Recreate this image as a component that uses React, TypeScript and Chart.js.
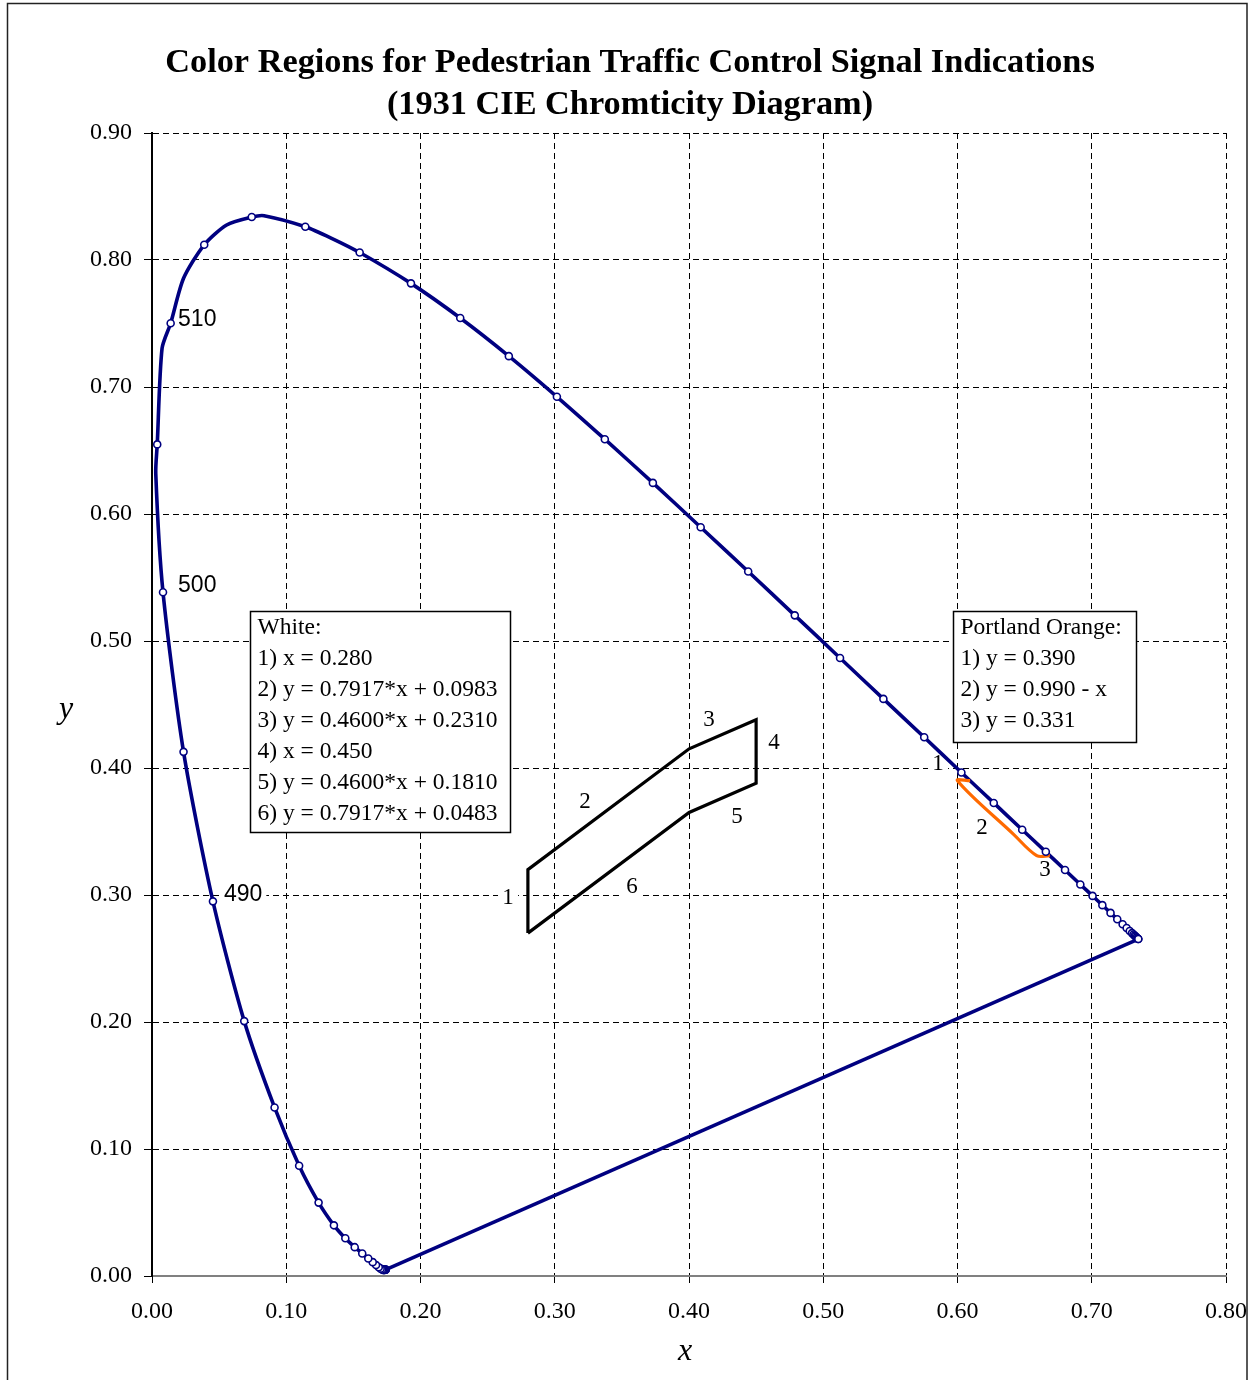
import React, { useEffect, useRef } from "react";
import { Chart, registerables } from "chart.js";

Chart.register(...registerables);

// ---- Data ----
const titleLines = [
  "Color Regions for Pedestrian Traffic Control Signal Indications",
  "(1931 CIE Chromticity Diagram)",
];

const wavelengths = [
  380, 385, 390, 395, 400, 405, 410, 415, 420, 425, 430, 435, 440, 445, 450, 455,
  460, 465, 470, 475, 480, 485, 490, 495, 500, 505, 510, 515, 520, 525, 530, 535,
  540, 545, 550, 555, 560, 565, 570, 575, 580, 585, 590, 595, 600, 605, 610, 615,
  620, 625, 630, 635, 640, 645, 650, 655, 660, 665, 670, 675, 680, 685, 690, 695, 700,
];
const locusX = [
  0.1741, 0.174, 0.1738, 0.1736, 0.1733, 0.173, 0.1726, 0.1721, 0.1714, 0.1703, 0.1689, 0.1669,
  0.1644, 0.1611, 0.1566, 0.151, 0.144, 0.1355, 0.1241, 0.1096, 0.0913, 0.0687, 0.0454, 0.0235,
  0.0082, 0.0039, 0.0139, 0.0389, 0.0743, 0.1142, 0.1547, 0.1929, 0.2296, 0.2658, 0.3016, 0.3373,
  0.3731, 0.4087, 0.4441, 0.4788, 0.5125, 0.5448, 0.5752, 0.6029, 0.627, 0.6482, 0.6658, 0.6801,
  0.6915, 0.7006, 0.7079, 0.714, 0.719, 0.723, 0.726, 0.7283, 0.73, 0.7311, 0.732, 0.7327, 0.7334,
  0.734, 0.7344, 0.7346, 0.7347,
];
const locusY = [
  0.005, 0.005, 0.0049, 0.0049, 0.0048, 0.0048, 0.0048, 0.0048, 0.0051, 0.0058, 0.0069, 0.0086,
  0.0109, 0.0138, 0.0177, 0.0227, 0.0297, 0.0399, 0.0578, 0.0868, 0.1327, 0.2007, 0.295, 0.4127,
  0.5384, 0.6548, 0.7502, 0.812, 0.8338, 0.8262, 0.8059, 0.7816, 0.7543, 0.7243, 0.6923, 0.6589,
  0.6245, 0.5896, 0.5547, 0.5202, 0.4866, 0.4544, 0.4242, 0.3965, 0.3725, 0.3514, 0.334, 0.3197,
  0.3083, 0.2993, 0.292, 0.2859, 0.2809, 0.277, 0.274, 0.2717, 0.27, 0.2689, 0.268, 0.2673, 0.2666,
  0.266, 0.2656, 0.2654, 0.2653,
];

// extra outline vertices (inserted after the given wavelength)
const extraAfter = [500, 505, 510, 515, 520, 525];
const extraX = [0.0028, 0.0075, 0.0235, 0.0556, 0.0835, 0.1338];
const extraY = [0.632, 0.7305, 0.7856, 0.8276, 0.8349, 0.8171];

// White region boundary vertices
const whiteX = [0.28, 0.28, 0.4001, 0.45, 0.45, 0.4001, 0.28];
const whiteY = [0.27, 0.32, 0.4151, 0.438, 0.388, 0.365, 0.27];

// Portland Orange boundary
const orangeX = [0.6094, 0.6, 0.6416, 0.659, 0.6688];
const orangeY = [0.39, 0.39, 0.348, 0.331, 0.331];

const whiteBoxLines = [
  "White:",
  "1) x = 0.280",
  "2) y = 0.7917*x + 0.0983",
  "3) y = 0.4600*x + 0.2310",
  "4) x = 0.450",
  "5) y = 0.4600*x + 0.1810",
  "6) y = 0.7917*x + 0.0483",
];
const orangeBoxLines = ["Portland Orange:", "1) y = 0.390", "2) y = 0.990 - x", "3) y = 0.331"];

const wlLabels = ["510", "500", "490"];
const wlLabelX = [0.0194, 0.0194, 0.0536];
const wlLabelY = [0.7528, 0.5433, 0.3];

const numLabels = ["1", "2", "3", "4", "5", "6", "1", "2", "3"];
const numLabelX = [0.2652, 0.3225, 0.4149, 0.4633, 0.4358, 0.3575, 0.5855, 0.6182, 0.6652];
const numLabelY = [0.2976, 0.3732, 0.4378, 0.4197, 0.3614, 0.3063, 0.4031, 0.3528, 0.3197];

const xTicks = [0, 0.1, 0.2, 0.3, 0.4, 0.5, 0.6, 0.7, 0.8];
const yTicks = [0, 0.1, 0.2, 0.3, 0.4, 0.5, 0.6, 0.7, 0.8, 0.9];

const SERIF = '"Liberation Serif", "Times New Roman", serif';
const SANS = '"Liberation Sans", Arial, sans-serif';

function buildLocus() {
  const pts: { x: number; y: number }[] = [];
  for (let i = 0; i < wavelengths.length; i++) {
    pts.push({ x: locusX[i], y: locusY[i] });
    for (let j = 0; j < extraAfter.length; j++) {
      if (extraAfter[j] === wavelengths[i]) pts.push({ x: extraX[j], y: extraY[j] });
    }
  }
  return pts;
}

const overlayPlugin = {
  id: "overlay",
  beforeDatasetsDraw(chart: any) {
    const ctx = chart.ctx as CanvasRenderingContext2D;
    const xs = chart.scales.x;
    const ys = chart.scales.y;
    ctx.save();
    ctx.textBaseline = "middle";
    // white backing behind in-plot labels (they hide gridlines in the reference)
    ctx.font = `23px ${SANS}`;
    ctx.fillStyle = "#fff";
    for (let i = 0; i < wlLabels.length; i++) {
      const w = ctx.measureText(wlLabels[i]).width;
      ctx.fillRect(xs.getPixelForValue(wlLabelX[i]) - 4, ys.getPixelForValue(wlLabelY[i]) - 13, w + 8, 26);
    }
    ctx.font = `23px ${SERIF}`;
    for (let i = 0; i < numLabels.length; i++) {
      ctx.fillRect(xs.getPixelForValue(numLabelX[i]) - 10, ys.getPixelForValue(numLabelY[i]) - 13, 20, 26);
    }
    ctx.restore();
  },
  afterDraw(chart: any) {
    const ctx = chart.ctx as CanvasRenderingContext2D;
    const xs = chart.scales.x;
    const ys = chart.scales.y;
    ctx.save();
    // outer border
    ctx.strokeStyle = "#222";
    ctx.lineWidth = 1.5;
    ctx.strokeRect(7.5, 3.5, 1239.5, 1420);

    // title
    ctx.fillStyle = "#000";
    ctx.textAlign = "center";
    ctx.textBaseline = "middle";
    ctx.font = `bold 34.3px ${SERIF}`;
    ctx.fillText(titleLines[0], 630, 63);
    ctx.fillText(titleLines[1], 630, 105);

    // axis titles
    ctx.font = `italic 32px ${SERIF}`;
    ctx.fillText("y", 66, 710);
    ctx.fillText("x", (xs.left + xs.right) / 2 - 4, 1352);

    // wavelength labels
    ctx.font = `23px ${SANS}`;
    ctx.textAlign = "left";
    for (let i = 0; i < wlLabels.length; i++) {
      ctx.fillText(wlLabels[i], xs.getPixelForValue(wlLabelX[i]), ys.getPixelForValue(wlLabelY[i]));
    }

    // region edge numbers
    ctx.font = `23px ${SERIF}`;
    ctx.textAlign = "center";
    for (let i = 0; i < numLabels.length; i++) {
      ctx.fillText(numLabels[i], xs.getPixelForValue(numLabelX[i]), ys.getPixelForValue(numLabelY[i]));
    }

    // text boxes
    const drawBox = (x0: number, y0: number, w: number, h: number, lines: string[]) => {
      const px = Math.round(xs.getPixelForValue(x0)) + 0.5;
      const py = Math.round(ys.getPixelForValue(y0)) + 0.5;
      ctx.fillStyle = "#fff";
      ctx.fillRect(px, py, w, h);
      ctx.strokeStyle = "#000";
      ctx.lineWidth = 1.5;
      ctx.strokeRect(px, py, w, h);
      ctx.fillStyle = "#000";
      ctx.font = `23.5px ${SERIF}`;
      ctx.textAlign = "left";
      ctx.textBaseline = "middle";
      lines.forEach((t, k) => ctx.fillText(t, px + 7, py + 16 + k * 31));
    };
    drawBox(0.073, 0.5236, 260, 221, whiteBoxLines);
    drawBox(0.5966, 0.5236, 183, 131, orangeBoxLines);
    ctx.restore();
  },
};

export default function App() {
  const ref = useRef<HTMLCanvasElement | null>(null);
  useEffect(() => {
    if (!ref.current) return;
    const locus = buildLocus();
    const n = wavelengths.length - 1;
    const closing = [
      { x: locusX[n], y: locusY[n] },
      { x: locusX[0], y: locusY[0] },
    ];
    const markers = wavelengths.map((_, i) => ({ x: locusX[i], y: locusY[i] }));
    const chart = new Chart(ref.current, {
      type: "scatter",
      data: {
        datasets: [
          {
            label: "Wavelengths",
            data: markers,
            showLine: false,
            pointRadius: 3.5,
            pointBackgroundColor: "#fff",
            pointBorderColor: "#000080",
            pointBorderWidth: 1.6,
          },
          {
            label: "White",
            data: whiteX.map((x, i) => ({ x, y: whiteY[i] })),
            showLine: true,
            borderColor: "#000",
            borderWidth: 3.2,
            pointRadius: 0,
            tension: 0,
          },
          {
            label: "Portland Orange",
            data: orangeX.map((x, i) => ({ x, y: orangeY[i] })),
            showLine: true,
            borderColor: "#FF6A00",
            borderWidth: 3.2,
            pointRadius: 0,
            tension: 0.35,
          },
          {
            label: "Spectral locus",
            data: locus,
            showLine: true,
            borderColor: "#000080",
            borderWidth: 3.6,
            pointRadius: 0,
            tension: 0.25,
          },
          {
            label: "Purple line",
            data: closing,
            showLine: true,
            borderColor: "#000080",
            borderWidth: 3.6,
            pointRadius: 0,
            tension: 0,
          },
        ],
      },
      options: {
        animation: false,
        responsive: false,
        devicePixelRatio: 1,
        layout: { padding: { top: 133, left: 0, right: 28, bottom: 0 } },
        plugins: { legend: { display: false }, title: { display: false }, tooltip: { enabled: false } },
        scales: {
          x: {
            type: "linear",
            min: 0,
            max: 0.8,
            afterFit: (s: any) => {
              s.height = 104;
              s.paddingLeft = 0;
              s.paddingRight = 0;
            },
            afterBuildTicks: (s: any) => {
              s.ticks = xTicks.map((v) => ({ value: v }));
            },
            ticks: {
              callback: (v: any) => Number(v).toFixed(2),
              font: { family: SERIF, size: 24 },
              color: "#000",
              padding: 14,
              maxRotation: 0,
              autoSkip: false,
            },
            grid: { color: "#000", lineWidth: 1, tickLength: 7, tickColor: "#000", tickBorderDash: [] },
            border: { display: true, color: "#808080", width: 2, dash: [6, 4] },
          },
          y: {
            type: "linear",
            min: 0,
            max: 0.9,
            afterFit: (s: any) => {
              s.width = 152;
              s.paddingTop = 0;
              s.paddingBottom = 0;
            },
            afterBuildTicks: (s: any) => {
              s.ticks = yTicks.map((v) => ({ value: v }));
            },
            ticks: {
              callback: (v: any) => Number(v).toFixed(2),
              font: { family: SERIF, size: 24 },
              color: "#000",
              padding: 12,
              autoSkip: false,
            },
            grid: { color: "#000", lineWidth: 1, tickLength: 8, tickColor: "#000", tickBorderDash: [] },
            border: { display: true, color: "#000", width: 2, dash: [6, 4] },
          },
        },
      },
      plugins: [overlayPlugin],
    });
    return () => chart.destroy();
  }, []);
  return (
    <div style={{ position: "absolute", left: 0, top: 0, width: 1254, height: 1380, background: "#fff" }}>
      <canvas ref={ref} width={1254} height={1380} style={{ width: 1254, height: 1380, display: "block" }} />
    </div>
  );
}
